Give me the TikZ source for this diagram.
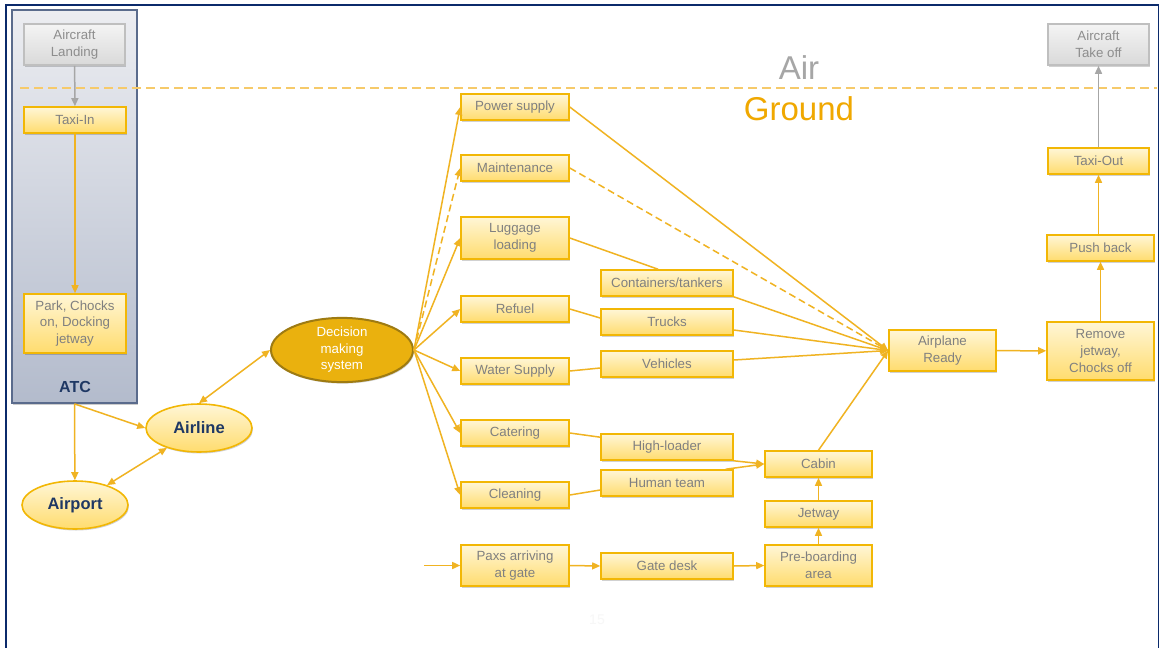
\documentclass[tikz,border=0pt]{standalone}
\usepackage{fontspec}
\setmainfont{Liberation Sans}
\usetikzlibrary{arrows.meta,shadows,calc,shapes.geometric}

\definecolor{frameblue}{HTML}{0B2A6B}
\definecolor{navytext}{HTML}{1F3864}
\definecolor{panelborder}{HTML}{5A6B8C}
\definecolor{paneltop}{HTML}{ECEDF1}
\definecolor{panelbot}{HTML}{B3BBCC}
\definecolor{boxtop}{HTML}{FFF6D6}
\definecolor{boxbot}{HTML}{FFDC6E}
\definecolor{boxline}{HTML}{F2B705}
\definecolor{flowline}{HTML}{F0B322}
\definecolor{greytext}{HTML}{808080}
\definecolor{greytop}{HTML}{F4F4F4}
\definecolor{greybot}{HTML}{D9D9D9}
\definecolor{greyline}{HTML}{BFBFBF}
\definecolor{greyarrow}{HTML}{A6A6A6}
\definecolor{dmsfill}{HTML}{EAB10E}
\definecolor{dmsline}{HTML}{9E7B12}
\definecolor{groundtext}{HTML}{F0A800}
\definecolor{airtext}{HTML}{A6A6A6}
\definecolor{dashline}{HTML}{F6CA6A}

\tikzset{
  boxtext/.style={font=\fontsize{13.3}{16.8}\selectfont, text=greytext, align=center},
  taskbox/.style={boxtext, rectangle, draw=boxline, line width=1.6pt,
    top color=boxtop, bottom color=boxbot, inner sep=0pt,
    drop shadow={shadow xshift=1pt, shadow yshift=-1.5pt, opacity=0.18, fill=black}},
  airbox/.style={boxtext, text=greytext!90, rectangle, draw=greyline, line width=1.6pt,
    top color=greytop, bottom color=greybot, inner sep=0pt,
    drop shadow={shadow xshift=1pt, shadow yshift=-1.5pt, opacity=0.18, fill=black}},
  actor/.style={ellipse, draw=boxline, line width=1.6pt, top color=boxtop, bottom color=boxbot,
    inner sep=0pt, minimum width=106pt, minimum height=48pt, text=navytext,
    font=\bfseries\fontsize{16.5}{19}\selectfont,
    drop shadow={shadow xshift=1pt, shadow yshift=-1.5pt, opacity=0.18, fill=black}},
  flow/.style={draw=flowline, line width=1.5pt, -{Triangle[length=8pt,width=7pt]}},
  dflow/.style={draw=flowline, line width=1.5pt,
    {Triangle[length=8pt,width=7pt]}-{Triangle[length=8pt,width=7pt]}},
  link/.style={draw=flowline, line width=1.5pt},
  greyflow/.style={draw=greyarrow, line width=1.5pt, -{Triangle[length=8pt,width=7pt]}},
}

\begin{document}
\begin{tikzpicture}[x=1pt,y=-1pt]
  % canvas
  \fill[white] (0,0) rectangle (1160,648);
  \useasboundingbox (0,0) rectangle (1160,648);

  % slide frame
  \draw[frameblue, line width=2.6pt] (6,648) -- (6,5) -- (1158.5,5);
  \draw[frameblue, line width=1.6pt] (1158.5,5) -- (1158.5,648);

  % ATC panel
  \node[rectangle, draw=panelborder, line width=1.8pt, top color=paneltop, bottom color=panelbot,
        minimum width=125pt, minimum height=393pt, inner sep=0pt,
        drop shadow={shadow xshift=1pt, shadow yshift=-1.5pt, opacity=0.2, fill=black}]
        (atc) at (74.5,206.5) {};
  \node[text=navytext, font=\bfseries\fontsize{16}{18}\selectfont, inner sep=0pt]
        (atclabel) at (75,387) {ATC};

  % air / ground divide
  \draw[dashline, line width=2.2pt, dash pattern=on 9pt off 5pt] (20,88) -- (1157,88);
  \node[text=airtext, font=\fontsize{33}{36}\selectfont, inner sep=0pt] (airlbl) at (799,68) {Air};
  \node[text=groundtext, font=\fontsize{33}{36}\selectfont, inner sep=0pt] (gndlbl) at (799,108.5) {Ground};

  % arrival chain
  \node[airbox, minimum width=101pt, minimum height=41pt] (landing) at (74.5,44.5) {Aircraft\\Landing};
  \node[taskbox, minimum width=102pt, minimum height=26pt] (taxiin) at (75,120) {Taxi-In};
  \node[taskbox, minimum width=102pt, minimum height=59pt] (park) at (75,323.5) {Park, Chocks\\on, Docking\\jetway};

  % actors
  \node[actor] (airline) at (199,428) {Airline};
  \node[actor] (airport) at (75,505) {Airport};
  \node[ellipse, draw=dmsline, line width=2pt, fill=dmsfill, minimum width=142pt, minimum height=46pt,
        inner sep=0pt, text=white, align=center, font=\fontsize{13.3}{16.5}\selectfont,
        drop shadow={shadow xshift=1pt, shadow yshift=-1.5pt, opacity=0.18, fill=black}]
        (dms) at (342,350) {Decision\\making\\system};

  % ground services
  \node[taskbox, minimum width=108pt, minimum height=26pt] (power) at (515,107) {Power supply};
  \node[taskbox, minimum width=108pt, minimum height=26pt] (maint) at (515,168) {Maintenance};
  \node[taskbox, minimum width=108pt, minimum height=42pt] (luggage) at (515,238) {Luggage\\loading};
  \node[taskbox, minimum width=108pt, minimum height=26pt] (refuel) at (515,309) {Refuel};
  \node[taskbox, minimum width=108pt, minimum height=26pt] (water) at (515,371) {Water Supply};
  \node[taskbox, minimum width=108pt, minimum height=26pt] (catering) at (515,433) {Catering};
  \node[taskbox, minimum width=108pt, minimum height=26pt] (cleaning) at (515,495) {Cleaning};
  \node[taskbox, minimum width=108pt, minimum height=41pt] (paxs) at (515,565.5) {Paxs arriving\\at gate};

  % resources
  \node[taskbox, minimum width=132pt, minimum height=26pt] (cont) at (667,283) {Containers/tankers};
  \node[taskbox, minimum width=132pt, minimum height=26pt] (trucks) at (667,322) {Trucks};
  \node[taskbox, minimum width=132pt, minimum height=26pt] (vehicles) at (667,364) {Vehicles};
  \node[taskbox, minimum width=132pt, minimum height=26pt] (highloader) at (667,447) {High-loader};
  \node[taskbox, minimum width=132pt, minimum height=26pt] (human) at (667,483) {Human team};
  \node[taskbox, minimum width=132pt, minimum height=26pt] (gate) at (667,566) {Gate desk};

  % boarding
  \node[taskbox, minimum width=107pt, minimum height=26pt] (cabin) at (818.5,464) {Cabin};
  \node[taskbox, minimum width=107pt, minimum height=26pt] (jetway) at (818.5,514) {Jetway};
  \node[taskbox, minimum width=107pt, minimum height=41pt] (preboard) at (818.5,565.5) {Pre-boarding\\area};

  % departure chain
  \node[taskbox, minimum width=107pt, minimum height=41pt] (ready) at (942.5,350.5) {Airplane\\Ready};
  \node[taskbox, minimum width=107pt, minimum height=58pt] (remove) at (1100.5,351) {Remove\\jetway,\\Chocks off};
  \node[taskbox, minimum width=107pt, minimum height=26pt] (push) at (1100.5,248) {Push back};
  \node[taskbox, minimum width=101pt, minimum height=26pt] (taxiout) at (1098.5,161) {Taxi-Out};
  \node[airbox, minimum width=101pt, minimum height=41pt] (takeoff) at (1098.5,44.5) {Aircraft\\Take off};

  % page number
  \node[text=black!3, font=\fontsize{14}{16}\selectfont, inner sep=0pt] (pageno) at (597,620) {15};

  % arrival connectors
  \draw[greyflow] (landing) -- (taxiin);
  \draw[flow] (taxiin) -- (park);
  \draw[flow] (atc.south) -- (airport);
  \draw[flow] (atc.south) -- (airline.west);
  \draw[dflow] (airline) -- (airport);
  \draw[dflow] (airline.north) -- (dms.west);

  % decision fan-out
  \draw[flow] (dms.east) -- (power.west);
  \draw[flow, dash pattern=on 7pt off 4pt] (dms.east) -- (maint.west);
  \draw[flow] (dms.east) -- (luggage.west);
  \draw[flow] (dms.east) -- (refuel.west);
  \draw[flow] (dms.east) -- (water.west);
  \draw[flow] (dms.east) -- (catering.west);
  \draw[flow] (dms.east) -- (cleaning.west);

  % services to resources
  \draw[link] (luggage.east) -- ($(cont.north)+(-9,0)$);
  \draw[link] (refuel.east) -- ($(trucks.west)+(0,-4)$);
  \draw[link] (water.east) -- ($(vehicles.west)+(0,4)$);
  \draw[link] (catering.east) -- ($(highloader.north west)+(0,4)$);
  \draw[link] (cleaning.east) -- ($(human.west)+(0,7)$);

  % convergence on airplane ready
  \draw[flow] (power.east) -- (ready.west);
  \draw[flow, dash pattern=on 7pt off 4pt] (maint.east) -- (ready.west);
  \draw[flow] (cont.south east) -- (ready.west);
  \draw[flow] ($(trucks.east)+(0,8)$) -- (ready.west);
  \draw[flow] ($(vehicles.east)+(0,-4)$) -- (ready.west);
  \draw[flow] (cabin.north) -- (ready.west);

  % cabin preparation and boarding
  \draw[flow] (highloader.south east) -- (cabin.west);
  \draw[flow] ($(human.north east)+(-8,0)$) -- (cabin.west);
  \coordinate (paxsin) at (424,565.5);
  \draw[flow] (paxsin) -- (paxs.west);
  \draw[flow] (paxs.east) -- (gate.west);
  \draw[flow] (gate.east) -- (preboard.west);
  \draw[flow] (preboard) -- (jetway);
  \draw[flow] (jetway) -- (cabin);

  % departure connectors
  \draw[flow] (ready) -- (remove);
  \draw[flow] (remove) -- (push);
  \draw[flow] (push.north -| taxiout.south) -- (taxiout.south);
  \draw[greyflow] (taxiout) -- (takeoff);
\end{tikzpicture}
\end{document}
